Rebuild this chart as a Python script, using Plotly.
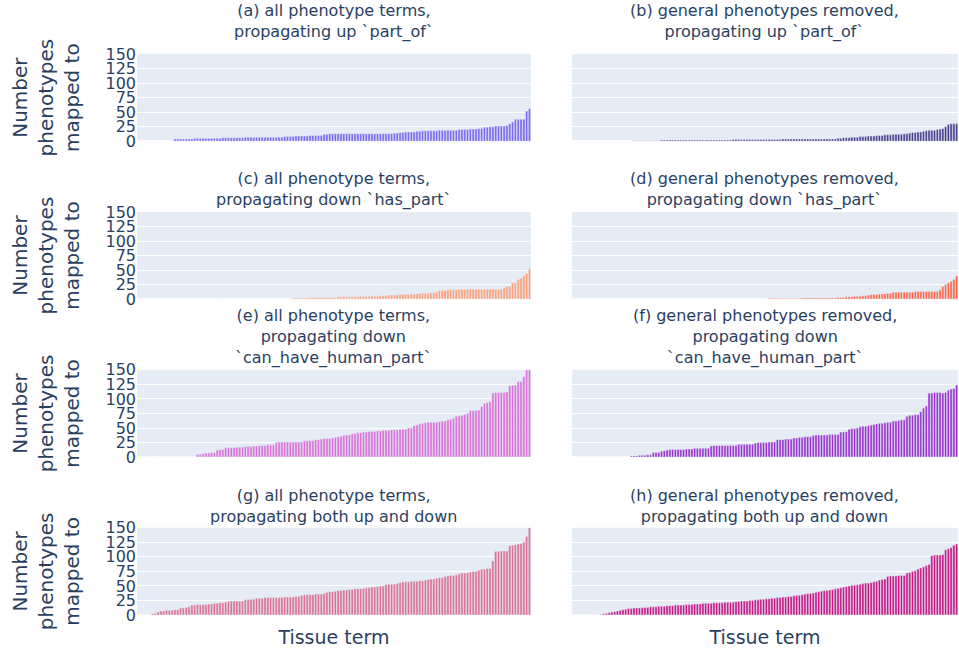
import plotly.graph_objects as go
from plotly.subplots import make_subplots

# tissue term slots (x categories, labels hidden in the chart)
tissue_terms = [f"t{i}" for i in range(140)]

# (a) all phenotype terms, propagating up part_of
vals_a = ([0]*13 + [4,4,4,4,4,4,4,5,5,5,5,5,5,5,5,5,5] +
          [6,6,6,6,6,6,6,6,7,7,7,7,7,7,7,7,7,7,7,7,7,7,8,8,8,8] +
          [9,9,9,9,9,10,10,10,10,10] +
          [12,12] + [13]*23 + [14,14] +
          [15,15,16,16,16,16] +
          [17,17,18,18,18,18,18,18,19,19,19,19,19,19,19,20,20,20,20] +
          [21,21,21,22,22] + [24,24,25,25,26,26,26,26,27] +
          [30,33] + [38,38,38,38] + [52,56])

# (b) general phenotypes removed, propagating up part_of
vals_b = ([0]*22 + [1]*10 + [2]*26 + [3]*18 + [4]*20 +
          [5,5,6,6,6,7,7,7,8,8,8,9,9,9] +
          [10,10,10,11,11,11,12,12,12,12,13,13] +
          [14,15,15,16,16,17] + [18,19,19,19,20,21] +
          [22,25] + [29,30,30,30])

# (c) all phenotype terms, propagating down has_part
vals_c = ([0]*55 + [2]*6 + [3]*10 + [4]*8 + [5]*7 +
          [6,6,6,7,7,7,7,8,8,8,8,9,9,9,10,10,10,10] +
          [11,11,12] + [15,15,15,16,16,16,16] + [17]*16 +
          [19,22,22,28,28,34,36,40,44,52])

# (d) general phenotypes removed, propagating down has_part
vals_d = ([0]*71 + [1]*12 + [2]*13 + [3,3,3,4,4,4,5,5] + [5,6,6,7] +
          [8,8,8,9,9,9,10,10] + [12]*8 + [13]*9 +
          [16,22,25,28,31,34,40])

# (e) all phenotype terms, propagating down can_have_human_part
vals_e = ([0]*21 + [5,5,6,7,7,8,8] + [12,13,13] + [16,16,16,16] +
          [17,17,17,18,18,18] + [19,19,20,20,20,21,21,21] +
          [25,26,26,26,26,26,26,26,26,26] + [28,28,28,28] +
          [30,30,31,32,32,32] + [33,34,35,36,37,38,38] + [40,41,42,42] +
          [43,43,44,44,44] + [45,45,46,46,46,47,47,47,48] + [48,48,50,50] +
          [54,55] + [57,58,59,60,60] + [60,60,61,62,62] + [64,65,67] +
          [70,71,72,73,75] + [80,80,80,81] + [87,92,94,95] +
          [110,111,111,111,111,112] + [122,123,124] + [130,130] + [138] +
          [150,150])

# (f) general phenotypes removed, propagating down can_have_human_part
vals_f = ([0]*21 + [2,2,2,3,3,3,4,4] + [8,8,8,10] + [11,12] + [13]*6 +
          [14,14,14,15,15,15,15,15,15] + [19,20,20,20,20,20,20,20,20,20] +
          [22]*6 + [24,25,25,25,25,26,26,26] + [30,30,30,31,31,31] +
          [33,33,34,34,35,35,35] + [37,38,38,38,38,38,39,39,39,39] +
          [43,43,44] + [48,49,49,50] + [52,53,53,54,55,56] +
          [57,58,58,59,60,60] + [62,62,63,64,64] + [70,72,72,73,73] +
          [78,84,88] + [110,110,111,111,111,110,111] + [115,117,118] + [124])

# (g) all phenotype terms, propagating both up and down
vals_g = ([0]*5 + [2,3,5] + [7,7,8,8,8,9,9] + [12,12,13,14] +
          [17,17,18,18,18,18,19,19] + [20,20,21,21,22] + [23,24,24,24,24,24] +
          [26,26,27,27] + [29,29,29,30,30,30,30,30] + [30,30,31,31,31,31,32,32] +
          [34,35,35,35,35,36,36,36,37] + [39,40,40,41,42,42] +
          [43,43,44,44,45,45,45] + [46,47,47,48,48,49,50,50] +
          [52,53,53,53,54] + [56,57,57,57,58,58,58,59,59,60] +
          [61,62,62,63,64,64] + [66,67,68,68,69] + [71,72,72,73,74,75,75] +
          [77,79,79,80,80] + [93] + [109,109,110,110,110] +
          [119,120,121,122,123,125] + [135] + [150])

# (h) general phenotypes removed, propagating both up and down
vals_h = ([0]*10 + [1,2,3,4,5,6,7,8,9,10] +
          [11,11,12,12,12,13,13,13,14,14,14,15,15,15,16,16,16,17,17,17] +
          [17,18,18,18,19,19,19,20,20,20,20,21,21,21,21,22,22,22,22,23] +
          [23,24,24,24,25,25,26,26,27,27,28,28,29,29,30,30,31,31,32,32] +
          [33,34,34,35,36,37,37,38,39,40,41,42,42,43,44,45,46,47,48,49] +
          [50,51,51,52,53,54,55,55,56,57,58,60] + [61,62] +
          [66,67,67,67,68,68,68] + [72,73,75,76] + [79,81,83,85,87] +
          [102,103,103,103,104] + [112,114,116] + [120,122])

titles = [
    "(a) all phenotype terms,<br>propagating up `part_of`",
    "(b) general phenotypes removed,<br>propagating up `part_of`",
    "(c) all phenotype terms,<br>propagating down `has_part`",
    "(d) general phenotypes removed,<br>propagating down `has_part`",
    "(e) all phenotype terms,<br>propagating down<br>`can_have_human_part`",
    "(f) general phenotypes removed,<br>propagating down<br>`can_have_human_part`",
    "(g) all phenotype terms,<br>propagating both up and down",
    "(h) general phenotypes removed,<br>propagating both up and down",
]
colors = ["#7B68EE", "#483D8B", "#FFA07A", "#FF6347",
          "#DA70D6", "#9932CC", "#DB7093", "#C71585"]
series = [vals_a, vals_b, vals_c, vals_d, vals_e, vals_f, vals_g, vals_h]

FONT = "DejaVu Sans"
fig = make_subplots(rows=4, cols=2, subplot_titles=titles,
                    column_widths=[0.505, 0.495],
                    horizontal_spacing=0.05, vertical_spacing=0.126)

for i, (vals, col) in enumerate(zip(series, colors)):
    r, c = i // 2 + 1, i % 2 + 1
    fig.add_trace(go.Bar(x=tissue_terms, y=vals, marker_color=col,
                         showlegend=False), row=r, col=c)

fig.update_xaxes(showticklabels=False, automargin=False)
fig.update_yaxes(range=[0, 150], tickvals=[0, 25, 50, 75, 100, 125, 150],
                 tickfont=dict(size=16), automargin=False)
for r in range(1, 5):
    fig.update_yaxes(showticklabels=False, row=r, col=2)
    fig.update_yaxes(title_text="Number<br>phenotypes<br>mapped to",
                     title_font=dict(size=20), title_standoff=20,
                     row=r, col=1)
for c in (1, 2):
    fig.update_xaxes(title_text="Tissue term", title_font=dict(size=19),
                     title_standoff=26, row=4, col=c)

fig.update_annotations(font=dict(size=16, family=FONT))
# first-row titles sit a little higher above their panels
fig.layout.annotations[0].yshift = 10
fig.layout.annotations[1].yshift = 10
fig.update_layout(width=959, height=648, template="plotly",
                  font=dict(family=FONT),
                  margin=dict(l=137, r=1, t=54, b=33))
fig.write_html("out.html", config={"displayModeBar": False},
               post_script="document.body.style.margin='0';"
                           "document.body.style.overflow='hidden';")
